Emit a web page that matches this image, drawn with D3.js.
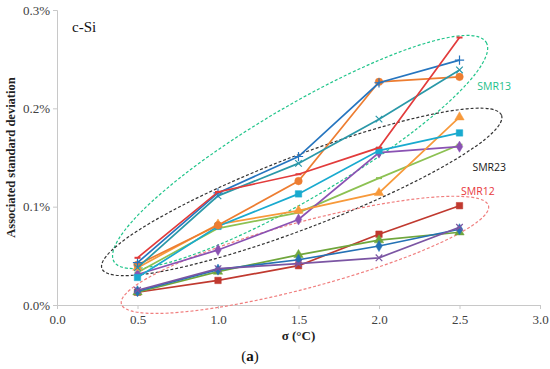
<!DOCTYPE html>
<html>
<head>
<meta charset="utf-8">
<script src="https://cdn.jsdelivr.net/npm/d3@7"></script>
<style>
body{margin:0;background:#fff;}
svg text{font-family:"Liberation Serif",serif;}
</style>
</head>
<body>
<div id="chart"></div>
<script>
var sigma = [0.5, 1.0, 1.5, 2.0, 2.5];
var xTicks = [0, 0.5, 1.0, 1.5, 2.0, 2.5, 3.0];
var yTicks = [0, 0.001, 0.002, 0.003];

// values in fraction (0.001 = 0.1%)
var redLine    = [0.00048, 0.00115, 0.00133, 0.00160, 0.00272];
var bluePlus   = [0.00043, 0.00114, 0.00151, 0.00226, 0.00249];
var tealX      = [0.00038, 0.00111, 0.00144, 0.00189, 0.00239];
var orangeDot  = [0.00041, 0.00081, 0.00126, 0.00227, 0.00232];
var cyanSq     = [0.00028, 0.00080, 0.00113, 0.00157, 0.00175];
var orangeTri  = [0.00038, 0.00082, 0.00096, 0.00114, 0.00191];
var greenDash  = [0.00033, 0.00078, 0.00094, 0.00129, 0.00163];
var purpleDia  = [0.00031, 0.00056, 0.00087, 0.00155, 0.00161];
var darkredSq  = [0.00013, 0.00025, 0.00040, 0.00072, 0.00101];
var oliveTri   = [0.00013, 0.00034, 0.00051, 0.00066, 0.00074];
var blueDia    = [0.00014, 0.00036, 0.00046, 0.00060, 0.00077];
var purpleX    = [0.00015, 0.00037, 0.00042, 0.00048, 0.00079];

var series = [
    {v: darkredSq, c: "#c0392f", m: "square"},
    {v: oliveTri,  c: "#6fa63c", m: "triangle"},
    {v: blueDia,   c: "#2471b5", m: "diamond"},
    {v: purpleX,   c: "#7b55a3", m: "x"},
    {v: greenDash, c: "#8cc152", m: "dash"},
    {v: purpleDia, c: "#8a52b3", m: "diamond"},
    {v: orangeTri, c: "#f7993a", m: "triangle"},
    {v: cyanSq,    c: "#19aacf", m: "square"},
    {v: orangeDot, c: "#ed7d31", m: "circle"},
    {v: tealX,     c: "#2a98a8", m: "x"},
    {v: bluePlus,  c: "#2675bf", m: "plus"},
    {v: redLine,   c: "#e23b3b", m: "dash"}
];

// group ellipses: centre in data units, radii in px, angle in degrees
var groups = [
    {name: "SMR13", cx: 1.51, cy: 0.001556, rx: 216, ry: 46, a: -30.5, c: "#22c58b", t: "#1ec08a", lx: 2.61, ly: 0.00222},
    {name: "SMR23", cx: 1.52, cy: 0.00115, rx: 214, ry: 36, a: -21, c: "#333333", t: "#1a1a1a", lx: 2.58, ly: 0.00140},
    {name: "SMR12", cx: 1.54, cy: 0.00051, rx: 190, ry: 33, a: -15, c: "#f07f7f", t: "#e8383d", lx: 2.51, ly: 0.00116}
];

var W = 550, H = 369;
var svg = d3.select("#chart").append("svg").attr("width", W).attr("height", H);

var x = d3.scaleLinear().domain([0, 3]).range([57, 540]);
var y = d3.scaleLinear().domain([0, 0.003]).range([305, 10]);

// axes
var xAxis = svg.append("g")
    .attr("transform", "translate(0," + y(0) + ")")
    .call(d3.axisBottom(x).tickValues(xTicks).tickFormat(d3.format(".1f")).tickSize(4).tickPadding(6));
var yAxis = svg.append("g")
    .attr("transform", "translate(" + x(0) + ",0)")
    .call(d3.axisLeft(y).tickValues(yTicks).tickFormat(d3.format(".1%")).tickSize(4).tickPadding(3));
[xAxis, yAxis].forEach(function(g){
    g.select(".domain").attr("stroke", "#c8c8c8");
    g.selectAll(".tick line").attr("stroke", "#c8c8c8");
    g.selectAll(".tick text").attr("fill", "#404040").style("font-size", "13px")
        .style("font-family", "Liberation Serif, serif");
});

// ellipses
groups.forEach(function(gr){
    svg.append("ellipse")
        .attr("transform", "translate(" + x(gr.cx) + "," + y(gr.cy) + ") rotate(" + gr.a + ")")
        .attr("rx", gr.rx).attr("ry", gr.ry)
        .attr("fill", "none")
        .attr("stroke", gr.c)
        .attr("stroke-width", 1.2)
        .attr("stroke-dasharray", "3,2");
    svg.append("text")
        .attr("x", x(gr.lx)).attr("y", y(gr.ly))
        .attr("dy", "0.35em")
        .attr("fill", gr.t)
        .style("font-family", "Open Sans, sans-serif")
        .style("font-size", "10.5px")
        .text(gr.name);
});

var line = d3.line()
    .x(function(d, i){ return x(sigma[i]); })
    .y(function(d){ return y(d); });

var symbols = {
    circle: d3.symbolCircle, square: d3.symbolSquare, triangle: d3.symbolTriangle,
    diamond: d3.symbolDiamond, plus: d3.symbolPlus, x: d3.symbolTimes
};
var sizes = {circle: 45, square: 42, triangle: 38, diamond: 36, plus: 30, x: 30};

series.forEach(function(s){
    svg.append("path")
        .attr("d", line(s.v))
        .attr("fill", "none")
        .attr("stroke", s.c)
        .attr("stroke-width", 1.7);

    var pts = svg.selectAll(null).data(s.v).enter();
    if (s.m === "dash") {
        pts.append("line")
            .attr("x1", function(d, i){ return x(sigma[i]) - 3; })
            .attr("x2", function(d, i){ return x(sigma[i]) + 3; })
            .attr("y1", function(d){ return y(d); })
            .attr("y2", function(d){ return y(d); })
            .attr("stroke", s.c).attr("stroke-width", 2);
    } else {
        var open = (s.m === "plus" || s.m === "x");
        pts.append("path")
            .attr("transform", function(d, i){ return "translate(" + x(sigma[i]) + "," + y(d) + ")"; })
            .attr("d", d3.symbol().type(symbols[s.m]).size(sizes[s.m]))
            .attr("fill", open ? "none" : s.c)
            .attr("stroke", s.c)
            .attr("stroke-width", open ? 1.2 : 0.5);
    }
});

// titles
svg.append("text").attr("x", 72).attr("y", 32)
    .style("font-size", "15px").attr("fill", "#111").text("c-Si");

svg.append("text")
    .attr("transform", "translate(15," + y(0.0015) + ") rotate(-90)")
    .attr("text-anchor", "middle")
    .style("font-size", "12.5px").style("font-weight", "bold").attr("fill", "#222")
    .text("Associated standard deviation");

svg.append("text").attr("x", x(1.5)).attr("y", 340)
    .attr("text-anchor", "middle")
    .style("font-size", "13px").style("font-weight", "bold").attr("fill", "#222")
    .text("σ (°C)");

var cap = svg.append("text").attr("x", 250).attr("y", 361)
    .attr("text-anchor", "middle").style("font-size", "15px").attr("fill", "#111");
cap.append("tspan").text("(");
cap.append("tspan").style("font-weight", "bold").text("a");
cap.append("tspan").text(")");
</script>
</body>
</html>
